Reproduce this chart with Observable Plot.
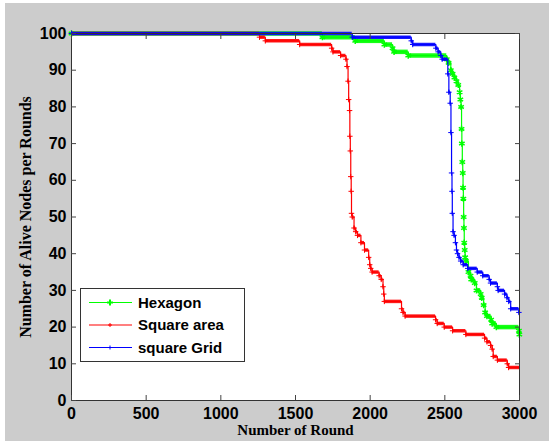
<!DOCTYPE html>
<html>
<head>
<meta charset="utf-8">
<script src="https://cdn.jsdelivr.net/npm/d3@7"></script>
<script src="https://cdn.jsdelivr.net/npm/@observablehq/plot@0.6"></script>
<style>
  html, body { margin: 0; padding: 0; background: #ffffff; }
  #wrap { position: relative; width: 549px; height: 444px; overflow: hidden; }
  #wrap svg { display: block; }
  .edge { position: absolute; background: #ffffff; }
</style>
</head>
<body>
<div id="wrap"></div>
<script>
// ---- data ----
const xTicks = [0, 500, 1000, 1500, 2000, 2500, 3000];
const yTicks = [0, 10, 20, 30, 40, 50, 60, 70, 80, 90, 100];
const xLabel = "Number of Round";
const yLabel = "Number of Alive Nodes per Rounds";
const seriesNames = ["Hexagon", "Square area", "square Grid"];
const seriesColors = ["#00ff00", "#ff0000", "#0000ff"];

const hexRounds = [0,1680,1900,2095,2150,2160,2255,2513,2525,2540,2552,2564,2578,2590,2599,2604,2609,2612,2614,2617,2620,2622,2624,2626,2628,2630,2633,2636,2641,2658,2672,2677,2700,2712,2740,2747,2760,2770,2782,2810,2817,2845,2996,2999];
const hexAlive  = [100,99,98,97,96,95,94,93,92,90,89,88,87,86,84,82,80,74,70,65,62,58,55,50,47,43,41,39,38,35,34,33,32,30,29,28,26,24,23,22,21,20,19,18];

const sqRounds = [0,1259,1298,1528,1742,1751,1802,1838,1845,1852,1856,1862,1864,1867,1870,1873,1875,1880,1892,1903,1915,1938,1962,1990,1997,2004,2013,2060,2074,2086,2091,2095,2210,2220,2234,2438,2449,2496,2552,2641,2766,2782,2806,2817,2824,2852,2918,2927];
const sqAlive  = [100,99,98,97,96,95,94,93,91,87,82,79,72,68,61,57,51,50,47,46,45,43,41,39,37,36,35,34,33,31,29,27,25,24,23,22,21,20,19,18,17,16,15,14,12,11,10,9];

const gridRounds = [0,1880,2275,2285,2440,2455,2473,2482,2520,2527,2536,2541,2545,2548,2550,2555,2562,2571,2578,2585,2595,2606,2623,2653,2717,2754,2797,2806,2852,2857,2900,2916,2928,2941,2996];
const gridAlive  = [100,99,98,97,96,95,94,93,89,84,81,73,62,57,51,46,45,43,41,40,39,38,37,36,35,34,33,32,31,30,29,28,27,25,24];

const xMax = 3000;

// ---- build tables ----
function build(name, rounds, alive) {
  const pts = rounds.map((r, i) => ({series: name, round: r, alive: alive[i], end: false}));
  const last = pts[pts.length - 1];
  if (last.round < xMax) pts.push({series: name, round: xMax, alive: last.alive, end: true});
  const segs = pts.slice(0, -1).map((p, i) => ({series: name, x1: p.round, x2: pts[i + 1].round, y: p.alive}));
  return {pts, segs, marks: pts.filter(p => !p.end)};
}
const hex = build(seriesNames[0], hexRounds, hexAlive);
const sq = build(seriesNames[1], sqRounds, sqAlive);
const grid = build(seriesNames[2], gridRounds, gridAlive);

function seriesMarks(s, color, bandWidth, symbol, r, sw) {
  return [
    Plot.ruleY(s.segs, {x1: "x1", x2: "x2", y: "y", stroke: color, strokeWidth: bandWidth, strokeOpacity: 0.9}),
    Plot.line(s.pts, {x: "round", y: "alive", curve: "step-after", stroke: color, strokeWidth: 1.2}),
    Plot.dot(s.marks, {x: "round", y: "alive", symbol: symbol, r: r, stroke: color, strokeWidth: sw})
  ];
}

const serif = "'Liberation Serif', 'Times New Roman', serif";

const chart = Plot.plot({
  width: 549,
  height: 444,
  marginLeft: 71,
  marginRight: 30,
  marginTop: 33,
  marginBottom: 44,
  style: "background:#cccccc; font-family:'Liberation Sans', Arial, sans-serif; font-size:16px; font-weight:bold; color:#000;",
  x: {domain: [0, xMax], label: null},
  y: {domain: [0, 100], label: null},
  marks: [
    Plot.frame({fill: "#ffffff", stroke: null}),
    ...seriesMarks(hex, seriesColors[0], 4.5, "asterisk", 3, 1.5),
    ...seriesMarks(sq, seriesColors[1], 3.5, "plus", 1.9, 1),
    ...seriesMarks(grid, seriesColors[2], 3.5, "plus", 1.9, 1),
    Plot.frame({stroke: "#333333", strokeWidth: 1}),
    // inward ticks on all four sides
    Plot.axisX(xTicks, {anchor: "bottom", tickSize: -5, tickFormat: () => "", stroke: "#444", label: null}),
    Plot.axisX(xTicks, {anchor: "top", tickSize: -5, tickFormat: () => "", stroke: "#444", label: null}),
    Plot.axisY(yTicks, {anchor: "left", tickSize: -5, tickFormat: () => "", stroke: "#444", label: null}),
    Plot.axisY(yTicks, {anchor: "right", tickSize: -5, tickFormat: () => "", stroke: "#444", label: null}),
    // tick labels
    Plot.axisX(xTicks, {anchor: "bottom", tickSize: 0, tickPadding: 7, tickFormat: d => String(d), fill: "#000", label: null}),
    Plot.axisY(yTicks, {anchor: "left", tickSize: 0, tickPadding: 5, tickFormat: d => String(d), fill: "#000", label: null}),
    // axis titles
    Plot.text([xLabel], {frameAnchor: "bottom", dy: 34, textAnchor: "middle", text: d => d, fontFamily: serif, fontSize: 15, fontWeight: "bold", fill: "#000"}),
    Plot.text([yLabel], {frameAnchor: "left", dx: -46, rotate: -90, textAnchor: "middle", text: d => d, fontFamily: serif, fontSize: 16, fontWeight: "bold", fill: "#000"})
  ]
});

// ---- legend (inside the axes, bottom-left) ----
const svg = d3.select(chart);
const lg = svg.append("g").attr("class", "legend").attr("text-anchor", "start");
lg.append("rect").attr("x", 80.5).attr("y", 288.5).attr("width", 164).attr("height", 73)
  .attr("fill", "#ffffff").attr("stroke", "#333333").attr("stroke-width", 1);
const rowY = [302.5, 325, 347.5];
seriesNames.forEach((name, i) => {
  const y = rowY[i];
  lg.append("line").attr("x1", 89).attr("x2", 132).attr("y1", y).attr("y2", y)
    .attr("stroke", seriesColors[i]).attr("stroke-width", 1.2);
  const s = i === 0 ? 3 : 2;
  lg.append("path").attr("d", `M${110 - s},${y}H${110 + s}M110,${y - s}V${y + s}`)
    .attr("stroke", seriesColors[i]).attr("stroke-width", i === 0 ? 2 : 1).attr("fill", "none");
  lg.append("text").attr("x", 138).attr("y", y).attr("dy", "0.36em")
    .attr("text-anchor", "start")
    .attr("font-family", "'Liberation Sans', Arial, sans-serif").attr("font-size", 15)
    .attr("font-weight", "bold").attr("fill", "#000").text(name);
});

const wrap = document.getElementById("wrap");
wrap.appendChild(chart);
// thin white margins seen at the image edges
[["0px","0px","5px","444px"],["0px","0px","549px","3px"],["0px","441px","549px","3px"]].forEach(([l,t,w,h]) => {
  const d = document.createElement("div");
  d.className = "edge";
  d.style.left = l; d.style.top = t; d.style.width = w; d.style.height = h;
  wrap.appendChild(d);
});
</script>
</body>
</html>
